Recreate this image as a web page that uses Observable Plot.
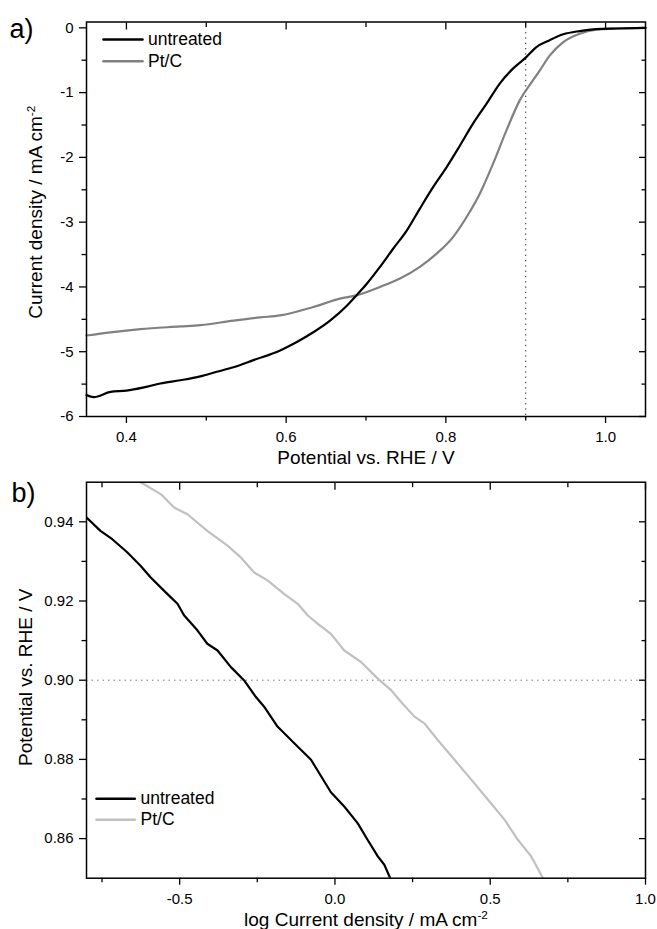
<!DOCTYPE html>
<html><head><meta charset="utf-8">
<script src="https://cdn.jsdelivr.net/npm/d3@7"></script>
<script src="https://cdn.jsdelivr.net/npm/@observablehq/plot@0.6"></script>
<style>body{margin:0;background:#fff} #chart svg{display:block}</style>
</head><body><div id="chart"></div>
<script>
// ---------- data ----------
const seriesNames = ["untreated", "Pt/C"];

// Panel a: LSV curves
const aUntreatedX = [0.35,0.359,0.38,0.40,0.422,0.4425,0.4675,0.4925,0.513,0.534,0.559,0.5925,0.6134,0.634,0.655,0.676,0.688,0.701,0.7175,0.734,0.751,0.7675,0.784,0.801,0.8175,0.834,0.851,0.8675,0.884,0.90,0.913,0.93,0.947,0.9675,0.988,1.013,1.05];
const aUntreatedY = [-5.67,-5.70,-5.62,-5.60,-5.55,-5.49,-5.44,-5.38,-5.31,-5.24,-5.13,-4.98,-4.85,-4.70,-4.52,-4.29,-4.13,-3.95,-3.69,-3.41,-3.13,-2.79,-2.46,-2.15,-1.82,-1.48,-1.17,-0.86,-0.63,-0.46,-0.30,-0.19,-0.10,-0.05,-0.02,-0.01,0];
const aPtcX = [0.35,0.38,0.4175,0.4675,0.4925,0.534,0.5675,0.5925,0.634,0.6675,0.688,0.7175,0.7425,0.7675,0.788,0.809,0.826,0.8425,0.859,0.876,0.8925,0.909,0.9175,0.93,0.947,0.9675,0.988,1.0175,1.05];
const aPtcY = [-4.75,-4.70,-4.65,-4.61,-4.59,-4.52,-4.47,-4.44,-4.31,-4.18,-4.13,-4.00,-3.87,-3.69,-3.49,-3.23,-2.92,-2.56,-2.10,-1.58,-1.12,-0.81,-0.66,-0.43,-0.22,-0.09,-0.03,-0.01,0];

// Panel b: Tafel plots
const bUntreatedX = [-0.8,-0.755,-0.717,-0.669,-0.626,-0.594,-0.540,-0.507,-0.486,-0.443,-0.411,-0.378,-0.335,-0.293,-0.255,-0.228,-0.185,-0.131,-0.077,-0.013,0.030,0.073,0.105,0.138,0.159,0.178];
const bUntreatedY = [0.9411,0.9377,0.9356,0.9323,0.9289,0.9260,0.9218,0.9193,0.9164,0.9126,0.9092,0.9075,0.9033,0.9000,0.8958,0.8933,0.8883,0.8841,0.8799,0.8717,0.8681,0.8639,0.8597,0.8555,0.8534,0.8500];
const bPtcX = [-0.626,-0.561,-0.518,-0.475,-0.411,-0.346,-0.303,-0.260,-0.217,-0.164,-0.120,-0.088,-0.056,-0.013,0.030,0.084,0.138,0.181,0.213,0.256,0.288,0.331,0.385,0.439,0.493,0.546,0.589,0.632,0.670];
const bPtcY = [0.9500,0.9470,0.9436,0.9419,0.9377,0.9340,0.9310,0.9272,0.9252,0.9218,0.9193,0.9164,0.9143,0.9117,0.9075,0.9046,0.9004,0.8975,0.8945,0.8908,0.8891,0.8849,0.8799,0.8749,0.8698,0.8648,0.8597,0.8555,0.8500];

// ticks and labels
const aXMajor = [0.4,0.6,0.8,1.0];
const aXMinor = [0.5,0.7,0.9];
const aYMajor = [-6,-5,-4,-3,-2,-1,0];
const aYMinor = [-5.5,-4.5,-3.5,-2.5,-1.5,-0.5];
const bXMajor = [-0.5,0,0.5,1.0];
const bXMinor = [-0.75,-0.25,0.25,0.75];
const bYMajor = [0.86,0.88,0.90,0.92,0.94];
const bYMinor = [0.87,0.89,0.91,0.93];
const aRefX = [0.9];
const bRefY = [0.90];
const aXTitle = "Potential vs. RHE / V";
const aYTitle = "Current density / mA cm^-2";
const bXTitle = "log Current density / mA cm^-2";
const bYTitle = "Potential vs. RHE / V";
const panelLabels = ["a)", "b)"];

// ---------- helpers ----------
const FONT = "'Liberation Sans', Arial, Helvetica, sans-serif";
const toRows = (xs, ys) => xs.map((x, i) => ({x, y: ys[i]}));
const lineShape = {draw(context, l) { context.moveTo(0, 0); context.lineTo(0, -l); }};
const MAJ = 7, MIN = 4.5, TW = 1.3;

function frameAxes(xMaj, xMin, yMaj, yMin, fx, fy) {
  const blank = () => "";
  return [
    Plot.axisX(xMaj, {anchor: "bottom", tickSize: MAJ, tickPadding: 8, tickFormat: fx, fontSize: 15, label: null, strokeWidth: TW}),
    Plot.axisX(xMin, {anchor: "bottom", tickSize: MIN, tickFormat: blank, label: null, strokeWidth: TW}),
    Plot.axisX(xMaj, {anchor: "top", tickSize: MAJ, dy: MAJ, tickFormat: blank, label: null, strokeWidth: TW}),
    Plot.axisX(xMin, {anchor: "top", tickSize: MIN, dy: MIN, tickFormat: blank, label: null, strokeWidth: TW}),
    Plot.axisY(yMaj, {anchor: "left", tickSize: MAJ, tickPadding: 6, tickFormat: fy, fontSize: 15, label: null, strokeWidth: TW}),
    Plot.axisY(yMin, {anchor: "left", tickSize: MIN, tickFormat: blank, label: null, strokeWidth: TW}),
    Plot.axisY(yMaj, {anchor: "right", tickSize: MAJ, dx: -MAJ, tickFormat: blank, label: null, strokeWidth: TW}),
    Plot.axisY(yMin, {anchor: "right", tickSize: MIN, dx: -MIN, tickFormat: blank, label: null, strokeWidth: TW}),
    Plot.frame({stroke: "black", strokeWidth: 1.5})
  ];
}

function legendMarks(colors, {frameAnchor, dx, dy, step, len, textDx, fontSize}) {
  return seriesNames.flatMap((name, i) => [
    Plot.vector([name], {frameAnchor, dx, dy: dy + i * step, length: len, rotate: 90, anchor: "start",
      stroke: colors[i], strokeWidth: 2.6, shape: lineShape}),
    Plot.text([name], {frameAnchor, dx: textDx, dy: dy + i * step, text: d => d, textAnchor: "start",
      lineAnchor: "middle", fontSize, fill: "black"})
  ]);
}

function title(str, opts) {
  return Plot.text([str], {text: d => d, textAnchor: "middle", lineAnchor: "middle", fill: "black", fontSize: 19, ...opts});
}

function superscripts(svg) {
  d3.select(svg).selectAll("text").each(function() {
    const t = this.textContent;
    if (t.includes("^")) {
      const [base, sup] = t.split("^");
      const el = d3.select(this);
      el.text(base);
      el.append("tspan").attr("dy", "-0.6em").attr("font-size", "0.62em").text(sup);
    }
  });
  return svg;
}

const style = {fontFamily: FONT, fontSize: "15px", color: "black", background: "white", overflow: "visible"};

// ---------- panel a ----------
const colorsA = ["#000000", "#808080"];
const plotA = Plot.plot({
  width: 657, height: 460,
  marginLeft: 86, marginRight: 12, marginTop: 21.5, marginBottom: 44,
  style,
  x: {domain: [0.35, 1.05]},
  y: {domain: [-6, 0.09]},
  marks: [
    Plot.ruleX(aRefX, {stroke: "#222", strokeWidth: 1, strokeDasharray: "1.3,4"}),
    Plot.line(toRows(aPtcX, aPtcY), {x: "x", y: "y", stroke: colorsA[1], strokeWidth: 2.2, curve: "monotone-x"}),
    Plot.line(toRows(aUntreatedX, aUntreatedY), {x: "x", y: "y", stroke: colorsA[0], strokeWidth: 2.2, curve: "monotone-x"}),
    ...frameAxes(aXMajor, aXMinor, aYMajor, aYMinor, d => d.toFixed(1), d => String(d)),
    ...legendMarks(colorsA, {frameAnchor: "top-left", dx: 17, dy: 17.5, step: 21.7, len: 39, textDx: 61.5, fontSize: 17.5}),
    title(aXTitle, {frameAnchor: "bottom", dy: 41.4}),
    title(aYTitle, {frameAnchor: "left", dx: -50.4, dy: -7, rotate: -90}),
    Plot.text([panelLabels[0]], {frameAnchor: "top-left", dx: -77, dy: 6.9, fontSize: 27, textAnchor: "start", lineAnchor: "middle", text: d => d, fill: "black"})
  ]
});

// ---------- panel b ----------
const colorsB = ["#000000", "#c0c0c0"];
const plotB = Plot.plot({
  width: 657, height: 469,
  marginLeft: 86, marginRight: 12, marginTop: 21.7, marginBottom: 51.3,
  style,
  x: {domain: [-0.8, 1.0]},
  y: {domain: [0.85, 0.95]},
  marks: [
    Plot.ruleY(bRefY, {stroke: "#777", strokeWidth: 1, strokeDasharray: "1.5,4"}),
    Plot.line(toRows(bPtcX, bPtcY), {x: "x", y: "y", stroke: colorsB[1], strokeWidth: 2.2, clip: true}),
    Plot.line(toRows(bUntreatedX, bUntreatedY), {x: "x", y: "y", stroke: colorsB[0], strokeWidth: 2.2, clip: true}),
    ...frameAxes(bXMajor, bXMinor, bYMajor, bYMinor, d => d.toFixed(1), d => d.toFixed(2)),
    ...legendMarks(colorsB, {frameAnchor: "bottom-left", dx: 10, dy: -79.4, step: 21, len: 38.3, textDx: 54, fontSize: 17.5}),
    title(bXTitle, {frameAnchor: "bottom", dy: 41.4}),
    title(bYTitle, {frameAnchor: "left", dx: -60.4, dy: -3, rotate: -90}),
    Plot.text([panelLabels[1]], {frameAnchor: "top-left", dx: -75, dy: 10.7, fontSize: 27, textAnchor: "start", lineAnchor: "middle", text: d => d, fill: "black"})
  ]
});

const chart = document.getElementById("chart");
chart.appendChild(superscripts(plotA));
chart.appendChild(superscripts(plotB));
</script></body></html>
